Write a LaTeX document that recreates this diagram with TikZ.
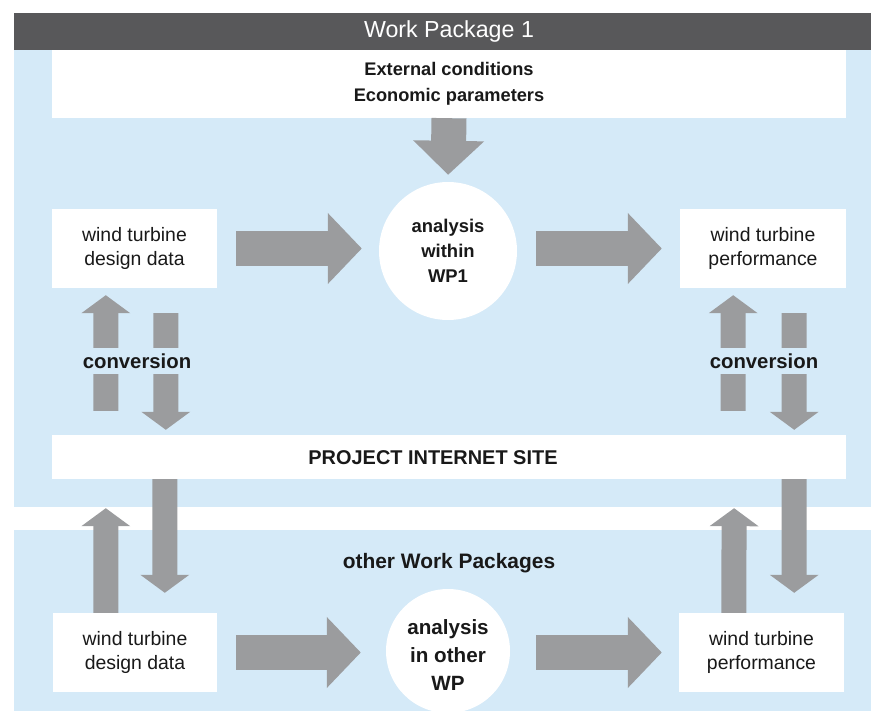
\documentclass[tikz,border=0pt]{standalone}
\usepackage{fontspec}
\setmainfont{Liberation Sans}
\usetikzlibrary{arrows.meta}

\definecolor{wpblue}{RGB}{213,234,248}
\definecolor{wpgray}{RGB}{155,156,158}
\definecolor{wpdark}{RGB}{88,88,90}
\definecolor{wptext}{RGB}{25,25,25}

\begin{document}
\begin{tikzpicture}[x=1bp,y=-1bp,
    box/.style={shape=rectangle, fill=white, text=wptext, align=center, inner sep=0pt, font=\fontsize{19.5}{25}\selectfont},
    disc/.style={shape=circle, fill=white, text=wptext, align=center, inner sep=0pt, font=\bfseries\fontsize{18.5}{25}\selectfont},
    label/.style={text=wptext, align=center, font=\bfseries\fontsize{20.4}{24}\selectfont},
    bigflow/.style={draw=wpgray, line width=35bp, -{Triangle[width=69bp,length=34bp]}},
    smallflow/.style={draw=wpgray, line width=25bp, -{Triangle[width=48bp,length=18bp]}}]
		\useasboundingbox (0,0) rectangle (871,711);
		% the two work package panels
		\fill[wpblue] (14,13) rectangle (871,507);
		\fill[wpblue] (14,530) rectangle (871,711);
		\fill[wpdark] (14,13) rectangle (871,50);
		\node (wp1) at (449,31.5) [text=white, font=\fontsize{23.3}{25}\selectfont] {Work Package 1};

		\node (ext) at (449,84) [box, minimum width=794bp, minimum height=68bp, font=\bfseries\fontsize{18.3}{26}\selectfont] {External conditions\\Economic parameters};
		\node (an1) at (448,251) [disc, minimum size=138bp] {analysis\\within\\WP1};
		\node (dd1) at (134.5,248.5) [box, minimum width=165bp, minimum height=79bp] {wind turbine\\design data};
		\node (perf1) at (763,248.5) [box, minimum width=166bp, minimum height=79bp] {wind turbine\\performance};
		\node (site) at (449,457) [box, minimum width=794bp, minimum height=44bp] {};
		\node (sitetext) at (433,458) [label, font=\bfseries\fontsize{20}{22}\selectfont] {PROJECT INTERNET SITE};

		\node (other) at (449,563) [label, font=\bfseries\fontsize{21}{24}\selectfont] {other Work Packages};
		\node (dd2) at (135,652.5) [box, minimum width=164bp, minimum height=79bp] {wind turbine\\design data};
		\node (perf2) at (761.5,652.5) [box, minimum width=165bp, minimum height=79bp] {wind turbine\\performance};
		\node (an2) at (448,651) [disc, minimum size=124bp] {};
		\node (an2text) at (448,655) [label, font=\bfseries\fontsize{20.7}{28}\selectfont] {analysis\\in other\\WP};

		% flow within WP1
		\draw[bigflow, shorten >=7bp] (ext.south) -- (an1.north);
		\draw[bigflow, shorten <=19bp, shorten >=17bp] (dd1.east) -- (dd1.east -| an1.west);
		\draw[bigflow, shorten <=19bp, shorten >=18bp] (perf1.west -| an1.east) -- (perf1.west);

		% conversion to and from the internet site
		\draw[smallflow, shorten <=24bp, shorten >=7bp] ([xshift=54bp]site.north west) -- ([xshift=54bp]dd1.south west);
		\draw[smallflow, shorten <=25bp, shorten >=5bp] ([xshift=114bp]dd1.south west) -- ([xshift=114bp]site.north west);
		\draw[smallflow, shorten <=24bp, shorten >=7bp] ([xshift=-113bp]site.north east) -- ([xshift=-113bp]perf1.south east);
		\draw[smallflow, shorten <=25bp, shorten >=5bp] ([xshift=-52bp]perf1.south east) -- ([xshift=-52bp]site.north east);
		\node (conv1) at (137,361) [label, fill=wpblue, minimum height=26bp, inner xsep=1bp] {conversion};
		\node (conv2) at (764,361) [label, fill=wpblue, minimum height=26bp, inner xsep=1bp] {conversion};

		% exchange with the other work packages
		\draw[smallflow, shorten >=29bp] ([xshift=53bp]dd2.north west) -- ([xshift=54bp]site.south west);
		\draw[smallflow, shorten >=20bp] ([xshift=113bp]site.south west) -- ([xshift=112bp]dd2.north west);
		\draw[smallflow, shorten >=29bp] ([xshift=55bp]perf2.north west) -- ([xshift=-112bp]site.south east);
		\draw[smallflow, shorten >=20bp] ([xshift=-52bp]site.south east) -- ([xshift=-50bp]perf2.north east);

		% flow within the other work packages
		\draw[bigflow, shorten <=19bp, shorten >=25bp] (dd2.east) -- (dd2.east -| an2.west);
		\draw[bigflow, shorten <=26bp, shorten >=17bp] (perf2.west -| an2.east) -- (perf2.west);
		\end{tikzpicture}
\end{document}
